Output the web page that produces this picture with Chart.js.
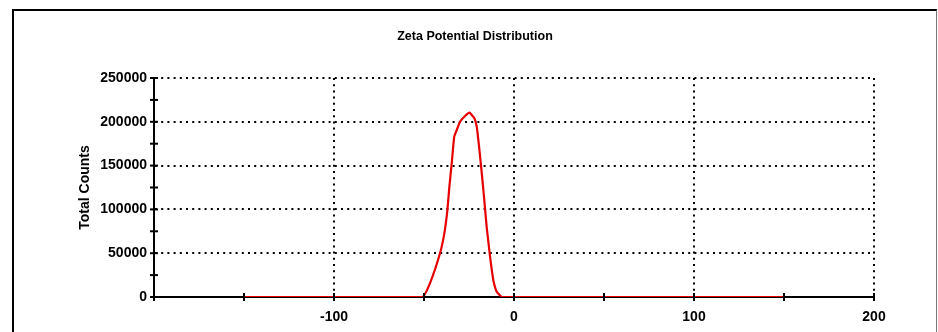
<!DOCTYPE html>
<html>
<head>
<meta charset="utf-8">
<script src="https://cdn.jsdelivr.net/npm/chart.js@4.4.0/dist/chart.umd.min.js"></script>
<style>
  html, body { margin: 0; padding: 0; background: #fff; }
  #frame {
    position: absolute; left: 12px; top: 9px; width: 922px; height: 340px;
    border-left: 2px solid #000; border-top: 2px solid #000; border-right: 1px solid #777;
  }
  #wrap { position: absolute; left: 0; top: 0; width: 938px; height: 332px; }
</style>
</head>
<body>
<div id="frame"></div>
<div id="wrap"><canvas id="zeta-chart" width="938" height="332"></canvas></div>
<script>
// Valores (mV vs. cuentas)
const zetaPotential = [-150, -50.9, -46.7, -41.1, -38.7, -37.0, -35.9, -34.6, -33.2, -31.8, -30.0, -27.2, -24.8, -22.0, -20.7, -19.4, -17.9, -16.5, -15.2, -13.3, -11.5, -9.6, -6.5, 150];
const totalCounts = [0, 0, 15600, 49900, 72700, 99300, 126000, 152600, 183000, 190600, 200100, 206600, 210400, 204000, 194400, 171600, 141200, 110700, 80300, 46000, 19400, 6100, 0, 0];
const xLabels = [-100, 0, 100, 200];   // etiquetas visibles en X
const yLabelStep = 50000;              // etiquetas visibles en Y

const points = zetaPotential.map((x, i) => ({ x: x, y: totalCounts[i] }));

// Marcas de tick cruzando los ejes
const crossTicks = {
  id: 'crossTicks',
  afterDraw(chart) {
    const c = chart.ctx;
    const xs = chart.scales.x, ys = chart.scales.y;
    const yAxis = ys.getPixelForValue(0), xAxis = xs.getPixelForValue(-200);
    c.save();
    c.strokeStyle = '#000';
    c.lineWidth = 2;
    xs.ticks.forEach(t => {
      const px = xs.getPixelForValue(t.value);
      c.beginPath(); c.moveTo(px, yAxis - 4); c.lineTo(px, yAxis + 4); c.stroke();
    });
    ys.ticks.forEach(t => {
      const py = ys.getPixelForValue(t.value);
      c.beginPath(); c.moveTo(xAxis - 4, py); c.lineTo(xAxis + 4, py); c.stroke();
    });
    c.restore();
  }
};

const ctx = document.getElementById('zeta-chart').getContext('2d');
new Chart(ctx, {
  type: 'line',
  data: {
    datasets: [{
      label: 'Total Counts',
      data: points,
      borderColor: '#e60000',
      borderWidth: 2.2,
      pointRadius: 0,
      tension: 0.15,
      fill: false
    }]
  },
  options: {
    responsive: false,
    animation: false,
    layout: { padding: { left: 76, right: 64, top: 0, bottom: 0 } },
    plugins: {
      legend: { display: false },
      tooltip: { enabled: false },
      title: {
        display: true,
        text: 'Zeta Potential Distribution',
        color: '#000',
        font: { family: 'Liberation Sans, Arial, sans-serif', size: 12.5, weight: 'bold' },
        padding: { top: 29.5, bottom: 33.5 }
      }
    },
    scales: {
      x: {
        type: 'linear',
        min: -200,
        max: 200,
        afterFit: scale => { scale.height = 35; },
        ticks: {
          stepSize: 50,
          autoSkip: false,
          maxRotation: 0,
          padding: 12,
          color: '#000',
          font: { family: 'Liberation Sans, Arial, sans-serif', size: 14, weight: 'bold' },
          callback: v => xLabels.includes(v) ? String(v) : ''
        },
        grid: {
          drawTicks: false,
          lineWidth: 2,
          color: c => (c.tick && xLabels.includes(c.tick.value)) ? '#000' : 'rgba(0,0,0,0)'
        },
        border: { display: true, color: '#000', width: 2, dash: [2, 4.2] }
      },
      y: {
        min: 0,
        max: 250000,
        afterFit: scale => { scale.width = 78; },
        title: {
          display: true,
          text: 'Total Counts',
          color: '#000',
          font: { family: 'Liberation Sans, Arial, sans-serif', size: 14, weight: 'bold' },
          padding: { top: 0.6, bottom: 0 }
        },
        ticks: {
          stepSize: 25000,
          autoSkip: false,
          padding: 7,
          color: '#000',
          font: { family: 'Liberation Sans, Arial, sans-serif', size: 14, weight: 'bold' },
          callback: v => (v % yLabelStep === 0) ? String(v) : ''
        },
        grid: {
          drawTicks: false,
          lineWidth: 2,
          color: c => (c.tick && c.tick.value > 0 && c.tick.value % yLabelStep === 0) ? '#000' : 'rgba(0,0,0,0)'
        },
        border: { display: true, color: '#000', width: 2, dash: [2, 4.2] }
      }
    }
  },
  plugins: [crossTicks]
});
</script>
</body>
</html>
